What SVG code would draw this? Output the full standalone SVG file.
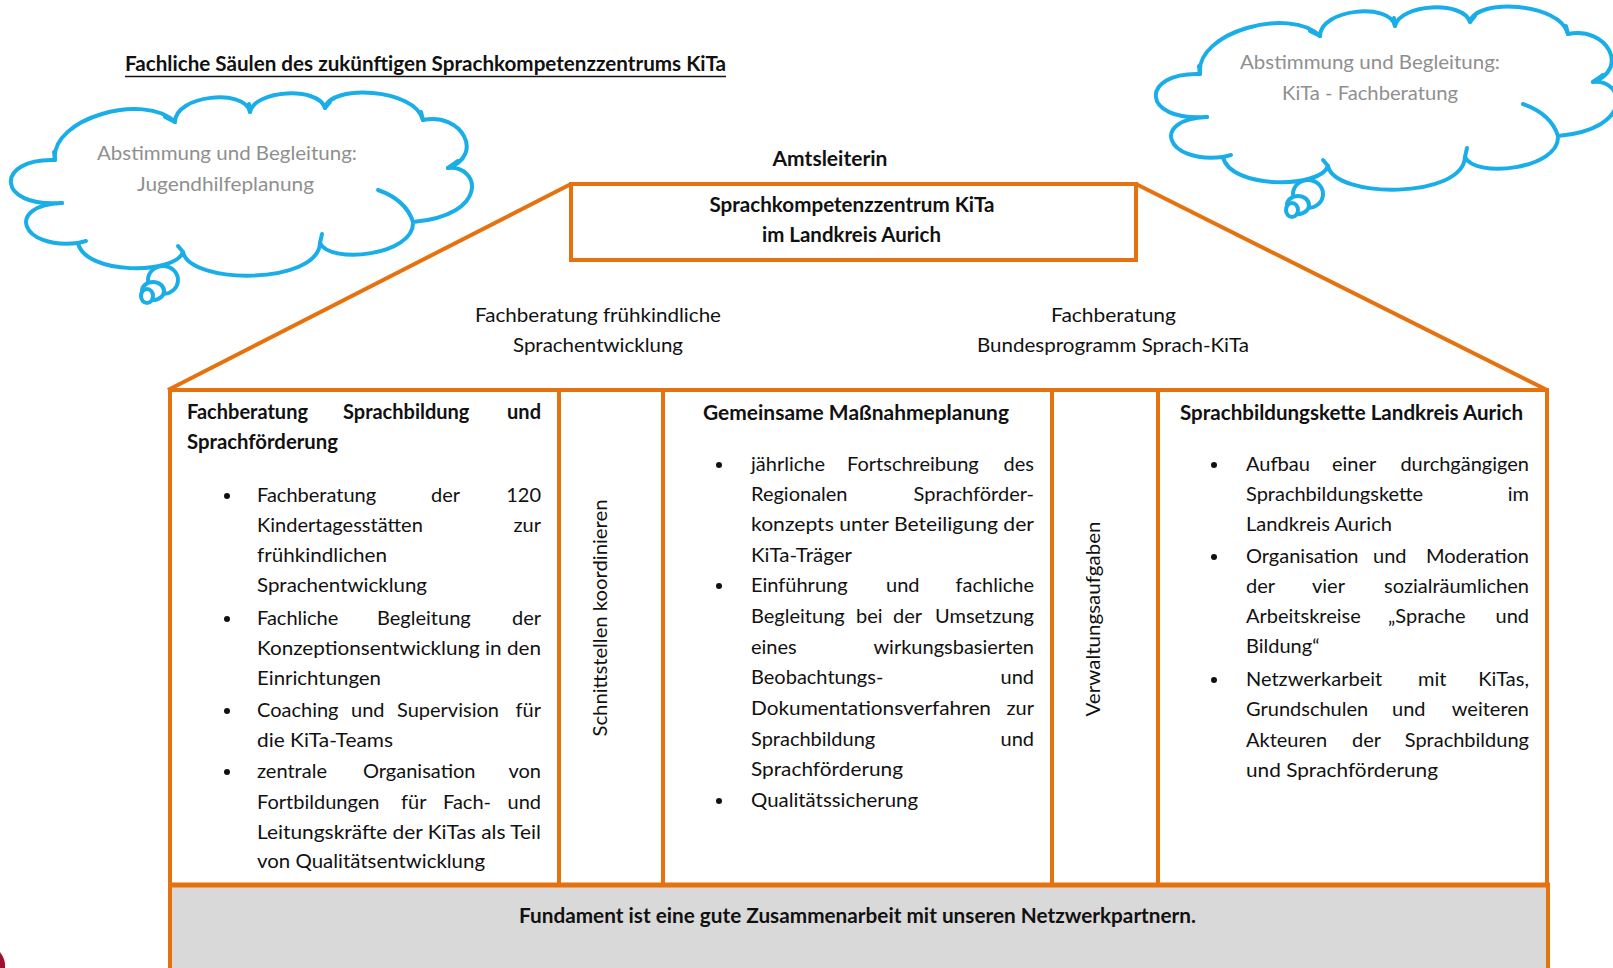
<svg xmlns="http://www.w3.org/2000/svg" xmlns:xlink="http://www.w3.org/1999/xlink" width="1613" height="968" viewBox="0 0 1613 968">
<style>
  .t { font-family: Lato, "Liberation Sans", sans-serif; font-size: 20px; fill: #111; }
  .b { font-weight: bold; }
  .g { fill: #8f8f8f; }
  .e { text-anchor: end; }
  .m { text-anchor: middle; }
  .o { fill: none; stroke: #E6720F; stroke-width: 4; }
  .cl { fill: #fff; stroke: #1AAEE8; stroke-width: 4; stroke-linejoin: round; stroke-linecap: round; }
  .hk { fill: none; stroke: #1AAEE8; stroke-width: 4; stroke-linecap: round; }
  .dot { fill: #111; }
</style>
<defs>
  <g id="cloud">
    <path class="cl" d="M55,160 C50,118 145,92 175,122 C175,95 245,88 250,112 C255,90 318,86 325,108 C330,84 415,88 423,120 C462,112 485,155 448,168 C480,165 490,215 413,222 C415,255 330,265 320,243 C318,285 190,285 183,252 C175,275 85,275 78,243 C20,250 5,205 62,203 C-5,208 -5,158 55,160 Z"/>
    <path class="hk" d="M378,190 C395,196 408,206 413,222"/>
    <path class="hk" d="M55,160 L54,152"/>
    <path class="hk" d="M165,117 L175,122"/>
    <path class="hk" d="M250,112 L249,104"/>
    <path class="hk" d="M325,108 L330,102"/>
    <path class="hk" d="M423,120 L421,112"/>
    <path class="hk" d="M448,168 L458,161"/>
    <path class="hk" d="M320,243 L322,234"/>
    <path class="hk" d="M183,252 L178,246"/>
    <path class="hk" d="M78,243 L86,241"/>
    <path class="hk" d="M62,203 L60,203"/>
    <ellipse class="cl" cx="163" cy="280" rx="15" ry="14"/>
    <ellipse class="cl" cx="153" cy="291" rx="11" ry="9"/>
    <ellipse class="cl" cx="147" cy="296" rx="6" ry="7"/>
  </g>
</defs>
<rect width="1613" height="968" fill="#fff"/>

<g id="title">
  <text class="t b" x="125" y="71" textLength="601" lengthAdjust="spacingAndGlyphs">Fachliche Säulen des zukünftigen Sprachkompetenzzentrums KiTa</text>
  <line x1="125" y1="76.5" x2="726" y2="76.5" stroke="#111" stroke-width="1.6"/>
</g>

<g id="cloud-left">
  <use xlink:href="#cloud" href="#cloud"/>
  <text class="t g m" x="227" y="160" textLength="260" lengthAdjust="spacingAndGlyphs">Abstimmung und Begleitung:</text>
  <text class="t g m" x="225.5" y="191" textLength="177" lengthAdjust="spacingAndGlyphs">Jugendhilfeplanung</text>
</g>

<g id="cloud-right">
  <use xlink:href="#cloud" href="#cloud" transform="translate(1145,-86)"/>
  <text class="t g m" x="1370" y="69" textLength="260" lengthAdjust="spacingAndGlyphs">Abstimmung und Begleitung:</text>
  <text class="t g m" x="1370" y="100" textLength="176" lengthAdjust="spacingAndGlyphs">KiTa - Fachberatung</text>
</g>

<g id="amtsleiterin">
  <text class="t b m" x="830" y="166" textLength="115" lengthAdjust="spacingAndGlyphs">Amtsleiterin</text>
</g>

<g id="connectors">
  <line class="o" x1="571" y1="184" x2="168" y2="390"/>
  <line class="o" x1="1136" y1="184" x2="1547" y2="390"/>
</g>

<g id="top-box">
  <rect class="o" x="571" y="184" width="565" height="76"/>
  <text class="t b m" x="852" y="212" textLength="285" lengthAdjust="spacingAndGlyphs">Sprachkompetenzzentrum KiTa</text>
  <text class="t b m" x="851.5" y="242" textLength="179" lengthAdjust="spacingAndGlyphs">im Landkreis Aurich</text>
</g>

<g id="roof-left">
  <text class="t m" x="598" y="322" textLength="246" lengthAdjust="spacingAndGlyphs">Fachberatung frühkindliche</text>
  <text class="t m" x="598" y="352" textLength="170" lengthAdjust="spacingAndGlyphs">Sprachentwicklung</text>
</g>
<g id="roof-right">
  <text class="t m" x="1113.5" y="322" textLength="125" lengthAdjust="spacingAndGlyphs">Fachberatung</text>
  <text class="t m" x="1113" y="352" textLength="272" lengthAdjust="spacingAndGlyphs">Bundesprogramm Sprach-KiTa</text>
</g>

<g id="frame">
  <rect class="o" x="170" y="390" width="1377" height="495"/>
  <line class="o" x1="559" y1="390" x2="559" y2="885"/>
  <line class="o" x1="663" y1="390" x2="663" y2="885"/>
  <line class="o" x1="1052" y1="390" x2="1052" y2="885"/>
  <line class="o" x1="1158" y1="390" x2="1158" y2="885"/>
</g>

<g id="pillar-1">
  <text class="t b" x="187" y="419">Fachberatung</text>
  <text class="t b" x="343" y="419">Sprachbildung</text>
  <text class="t b e" x="541" y="419">und</text>
  <text class="t b" x="187" y="449" textLength="151" lengthAdjust="spacingAndGlyphs">Sprachförderung</text>

  <circle class="dot" cx="227" cy="496" r="3"/>
  <text class="t" x="257" y="502">Fachberatung</text>
  <text class="t" x="431" y="502">der</text>
  <text class="t e" x="541" y="502">120</text>
  <text class="t" x="257" y="532">Kindertagesstätten</text>
  <text class="t e" x="541" y="532">zur</text>
  <text class="t" x="257" y="562" textLength="130" lengthAdjust="spacingAndGlyphs">frühkindlichen</text>
  <text class="t" x="257" y="592" textLength="170" lengthAdjust="spacingAndGlyphs">Sprachentwicklung</text>

  <circle class="dot" cx="227" cy="619" r="3"/>
  <text class="t" x="257" y="625">Fachliche</text>
  <text class="t" x="377" y="625">Begleitung</text>
  <text class="t e" x="541" y="625">der</text>
  <text class="t" x="257" y="655" textLength="284" lengthAdjust="spacingAndGlyphs">Konzeptionsentwicklung in den</text>
  <text class="t" x="257" y="685" textLength="124" lengthAdjust="spacingAndGlyphs">Einrichtungen</text>

  <circle class="dot" cx="227" cy="711" r="3"/>
  <text class="t" x="257" y="717">Coaching</text>
  <text class="t" x="351" y="717">und</text>
  <text class="t" x="397" y="717">Supervision</text>
  <text class="t e" x="541" y="717">für</text>
  <text class="t" x="257" y="747" textLength="136" lengthAdjust="spacingAndGlyphs">die KiTa-Teams</text>

  <circle class="dot" cx="227" cy="772" r="3"/>
  <text class="t" x="257" y="778">zentrale</text>
  <text class="t" x="363" y="778">Organisation</text>
  <text class="t e" x="541" y="778">von</text>
  <text class="t" x="257" y="809">Fortbildungen</text>
  <text class="t" x="401" y="809">für</text>
  <text class="t" x="443" y="809">Fach-</text>
  <text class="t e" x="541" y="809">und</text>
  <text class="t" x="257" y="839" textLength="284" lengthAdjust="spacingAndGlyphs">Leitungskräfte der KiTas als Teil</text>
  <text class="t" x="257" y="868" textLength="228" lengthAdjust="spacingAndGlyphs">von Qualitätsentwicklung</text>
</g>

<g id="pillar-2">
  <text class="t m" x="607" y="618" transform="rotate(-90 607 618)" textLength="237" lengthAdjust="spacingAndGlyphs">Schnittstellen koordinieren</text>
</g>

<g id="pillar-3">
  <text class="t b" x="703" y="420" textLength="306" lengthAdjust="spacingAndGlyphs">Gemeinsame Maßnahmeplanung</text>

  <circle class="dot" cx="719" cy="465" r="3"/>
  <text class="t" x="751" y="471">jährliche</text>
  <text class="t" x="847" y="471">Fortschreibung</text>
  <text class="t e" x="1034" y="471">des</text>
  <text class="t" x="751" y="501">Regionalen</text>
  <text class="t e" x="1034" y="501">Sprachförder-</text>
  <text class="t" x="751" y="531" textLength="283" lengthAdjust="spacingAndGlyphs">konzepts unter Beteiligung der</text>
  <text class="t" x="751" y="562" textLength="101" lengthAdjust="spacingAndGlyphs">KiTa-Träger</text>

  <circle class="dot" cx="719" cy="586" r="3"/>
  <text class="t" x="751" y="592">Einführung</text>
  <text class="t" x="886" y="592">und</text>
  <text class="t e" x="1034" y="592">fachliche</text>
  <text class="t" x="751" y="623">Begleitung</text>
  <text class="t" x="856" y="623">bei</text>
  <text class="t" x="893" y="623">der</text>
  <text class="t e" x="1034" y="623">Umsetzung</text>
  <text class="t" x="751" y="654">eines</text>
  <text class="t e" x="1034" y="654">wirkungsbasierten</text>
  <text class="t" x="751" y="684">Beobachtungs-</text>
  <text class="t e" x="1034" y="684">und</text>
  <text class="t" x="751" y="715" textLength="240" lengthAdjust="spacingAndGlyphs">Dokumentationsverfahren</text>
  <text class="t e" x="1034" y="715">zur</text>
  <text class="t" x="751" y="746">Sprachbildung</text>
  <text class="t e" x="1034" y="746">und</text>
  <text class="t" x="751" y="776" textLength="152" lengthAdjust="spacingAndGlyphs">Sprachförderung</text>

  <circle class="dot" cx="719" cy="801" r="3"/>
  <text class="t" x="751" y="807" textLength="167" lengthAdjust="spacingAndGlyphs">Qualitätssicherung</text>
</g>

<g id="pillar-4">
  <text class="t m" x="1100" y="619" transform="rotate(-90 1100 619)" textLength="195" lengthAdjust="spacingAndGlyphs">Verwaltungsaufgaben</text>
</g>

<g id="pillar-5">
  <text class="t b" x="1180" y="420" textLength="343" lengthAdjust="spacingAndGlyphs">Sprachbildungskette Landkreis Aurich</text>

  <circle class="dot" cx="1214" cy="465" r="3"/>
  <text class="t" x="1246" y="471">Aufbau</text>
  <text class="t" x="1332" y="471">einer</text>
  <text class="t e" x="1529" y="471">durchgängigen</text>
  <text class="t" x="1246" y="501">Sprachbildungskette</text>
  <text class="t e" x="1529" y="501">im</text>
  <text class="t" x="1246" y="531" textLength="146" lengthAdjust="spacingAndGlyphs">Landkreis Aurich</text>

  <circle class="dot" cx="1214" cy="557" r="3"/>
  <text class="t" x="1246" y="563">Organisation</text>
  <text class="t" x="1373" y="563">und</text>
  <text class="t e" x="1529" y="563">Moderation</text>
  <text class="t" x="1246" y="593">der</text>
  <text class="t" x="1312" y="593">vier</text>
  <text class="t e" x="1529" y="593">sozialräumlichen</text>
  <text class="t" x="1246" y="623">Arbeitskreise</text>
  <text class="t" x="1388" y="623">„Sprache</text>
  <text class="t e" x="1529" y="623">und</text>
  <text class="t" x="1246" y="653">Bildung“</text>

  <circle class="dot" cx="1214" cy="680" r="3"/>
  <text class="t" x="1246" y="686">Netzwerkarbeit</text>
  <text class="t" x="1418" y="686">mit</text>
  <text class="t e" x="1529" y="686">KiTas,</text>
  <text class="t" x="1246" y="716">Grundschulen</text>
  <text class="t" x="1392" y="716">und</text>
  <text class="t e" x="1529" y="716">weiteren</text>
  <text class="t" x="1246" y="747">Akteuren</text>
  <text class="t" x="1352" y="747">der</text>
  <text class="t e" x="1529" y="747">Sprachbildung</text>
  <text class="t" x="1246" y="777" textLength="192" lengthAdjust="spacingAndGlyphs">und Sprachförderung</text>
</g>

<g id="foundation">
  <rect x="170" y="885" width="1378" height="90" fill="#D9D9D9" stroke="#E6720F" stroke-width="4"/>
  <line x1="168" y1="885" x2="1550" y2="885" stroke="#E6720F" stroke-width="5"/>
  <text class="t b m" x="857.5" y="923" textLength="677" lengthAdjust="spacingAndGlyphs">Fundament ist eine gute Zusammenarbeit mit unseren Netzwerkpartnern.</text>
</g>

<path d="M0,952 Q6,960 5,968 L0,968 Z" fill="#A0102F"/>
</svg>
